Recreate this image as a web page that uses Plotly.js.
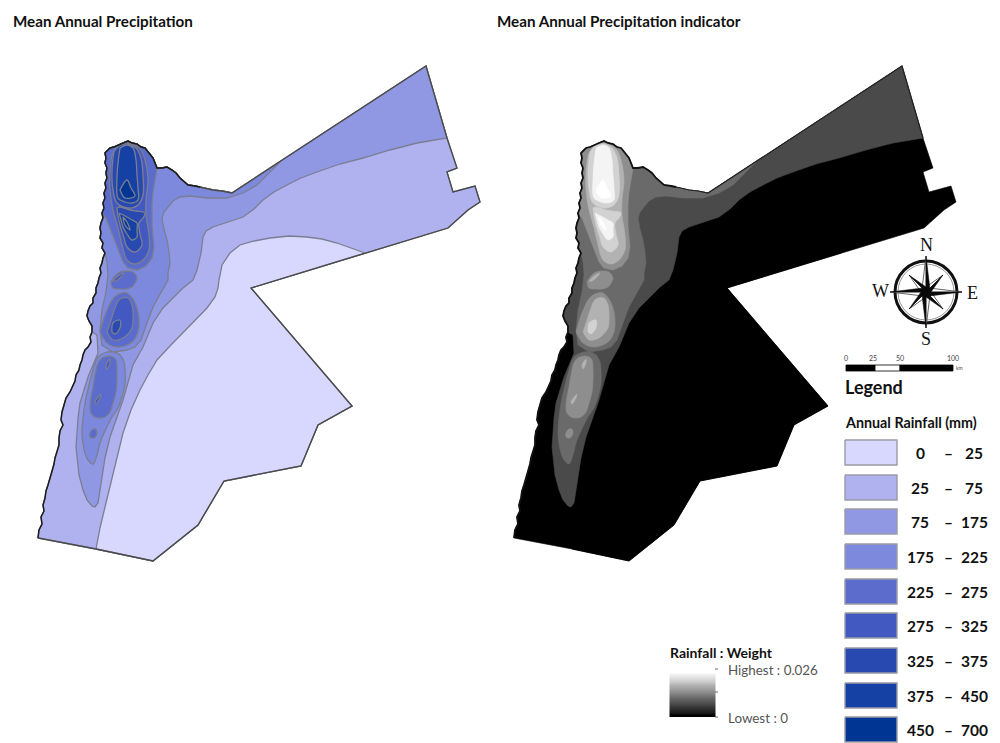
<!DOCTYPE html>
<html><head><meta charset="utf-8">
<script src="https://cdn.plot.ly/plotly-3.0.1.min.js"></script>
<style>html,body{margin:0;padding:0;background:#fff}#c{width:1000px;height:743px}</style>
</head><body><div id="c"></div>
<script>
// ---- classes ----
const rainfallLow  = ['0','25','75','175','225','275','325','375','450'];
const rainfallHigh = ['25','75','175','225','275','325','375','450','700'];
const blues = ['#d8d8ff','#b0b2f0','#9098e3','#7c89dd','#5b6ccd','#4359c2','#2849b0','#1540a4','#003594'];
const grays = ['#000000','#000000','#4a4a4a','#6a6a6a','#8e8e8e','#b2b2b2','#d2d2d2','#f4f4f4','#ffffff'];
const legendTops = [440,475,509,544,579,613,648,683,717];
// ---- boundary of the territory ----
const coastSouth = [[38,538],[39,530],[42,524],[41,517],[44,511],[43,505],[45,498],[46,491],[48,485],[50,478],[52,472],[54,464],[55,458],[57,452],[59,445],[59,438],[60,431],[63,425],[61,420],[62,412],[64,404],[66,398],[70,392],[72,387],[75,381],[76,375],[79,370],[80,365],[82,360],[83,355],[85,350],[88,347],[91,342],[90,337],[92,332]];
const coastMid = [[92,326],[89,321],[87,316],[88,311],[90,306],[93,303],[93,298],[96,293],[96,288],[98,283],[99,278],[101,273],[100,268],[102,263],[103,258]];
const coastNorth = [[105,253],[102,248],[103,243],[100,238],[101,233],[100,228],[101,223],[103,218],[102,213],[104,208],[103,203],[105,198],[104,193],[106,188],[105,183],[107,178],[106,173],[107,168],[105,163],[106,158],[105,153]];
const topEdge = [[108,150],[110,148],[114,147],[118,145],[123,143],[128,141],[132,143],[137,144],[141,147],[145,148],[148,152],[151,155],[153,158],[155,163],[157,168],[162,168],[167,167],[172,170],[176,173],[180,178],[185,182],[188,185],[195,186],[200,187],[207,189],[213,190],[222,191],[232,193]];
const northEast = [[426,66],[447,138]];
const eastEdge = [[457,168],[447,172],[453,192],[475,186],[480,202],[468,210],[448,228],[365,253]];
const gulfEdge = [[251,288],[352,406],[318,425],[301,466],[224,481],[198,525],[153,561],[96,549]];
// ---- rainfall contours ----
const c0 = [[96,549],[100,528],[105,507],[109,490],[113,473],[118,452],[123,433],[131,410],[140,390],[148,375],[157,360],[170,346],[183,333],[196,320],[207,308],[215,297],[218,288],[219,280],[222,265],[230,253],[240,245],[254,241],[270,238],[289,236],[307,237],[322,239],[337,243],[351,248],[365,253]];
const c1 = [[447,138],[417,143],[390,150],[363,158],[340,164],[317,172],[301,178],[287,185],[274,192],[263,200],[254,209],[243,217],[228,222],[213,227],[206,231],[203,237],[201,253],[197,270],[193,280],[183,288],[173,298],[163,308],[153,323],[148,335],[143,347],[133,365],[128,382],[123,400],[116,420],[110,437],[105,458],[102,477],[100,492],[98,503],[95,507],[92,506],[87,500],[83,490],[79,475],[77,460],[76,447],[77,433],[78,418],[80,403],[84,390],[88,377],[93,365],[98,353],[97,335],[92,332]];
const c2 = [[280,162],[267,175],[257,185],[243,193],[227,198],[207,198],[190,196],[180,197],[173,201],[168,207],[164,212],[162,218],[164,229],[167,240],[169,252],[170,263],[168,273],[168,280],[160,295],[153,307],[147,323],[141,340],[135,347],[127,350],[113,352],[102,345],[100,330],[102,310],[106,292],[108,275],[107,262]];
const c3 = [[157,168],[155,180],[153,192],[152,205],[152,225],[153,237],[154,247],[152,258],[146,266],[137,270],[128,268],[123,262],[119,252],[114,240],[110,228],[106,218]];
const b3South = [[107,352],[114,352],[120,355],[124,362],[125,370],[125,384],[122,397],[118,408],[112,417],[105,431],[100,443],[97,455],[93,464],[88,460],[85,453],[83,444],[82,433],[83,418],[85,403],[89,385],[93,370],[98,357],[107,352]];
const b4South = [[108,356],[113,357],[116,360],[117,370],[117,380],[116,392],[113,403],[110,412],[105,417],[100,418],[95,417],[91,413],[90,408],[91,397],[93,387],[95,375],[98,363],[102,358],[108,356]];
const b4Dot = [[96,429],[97,433],[94,438],[90,437],[90,433],[93,429],[96,429]];
const b5Patch1 = [[110,359],[110,363],[107,369],[106,366],[108,361],[110,359]];
const b5Patch2 = [[101,394],[100,398],[96,404],[95,402],[98,397],[101,394]];
const b4Oval = [[111,282],[115,276],[120,272],[127,271],[133,272],[137,278],[135,283],[132,287],[126,289],[120,289],[113,288],[111,282]];
const b5Sliver = [[113,281],[118,276],[124,273],[121,277],[116,281],[113,281]];
const b4Mid = [[100,332],[104,318],[108,308],[112,300],[117,295],[122,293],[127,293],[133,299],[137,308],[139,320],[138,332],[132,342],[118,347],[107,343],[100,332]];
const b5Mid = [[107,332],[111,320],[115,308],[118,301],[122,298],[128,298],[132,305],[133,312],[133,320],[132,328],[123,338],[113,340],[107,332]];
const b6Mid = [[112,332],[113,323],[120,320],[120,328],[115,334],[112,332]];
const b5North = [[112,155],[110,170],[110,190],[113,210],[118,228],[122,245],[127,260],[135,264],[143,260],[149,250],[149,235],[146,215],[146,200],[148,180],[145,160],[140,149],[128,143],[118,146],[112,155]];
const b6Upper = [[114,152],[112,170],[113,190],[117,203],[128,208],[138,205],[143,195],[143,175],[141,158],[136,148],[127,144],[119,146],[114,152]];
const b6Lower = [[117,208],[118,216],[120,225],[124,238],[127,247],[135,252],[142,245],[140,234],[139,223],[143,218],[145,213],[136,211],[130,210],[120,207],[117,208]];
const b7Upper = [[120,148],[118,163],[117,178],[118,198],[125,202],[132,203],[138,200],[138,188],[137,175],[136,160],[133,148],[127,145],[120,148]];
const b7Lower = [[119,213],[121,220],[123,227],[127,234],[132,240],[137,237],[137,230],[137,223],[132,220],[127,217],[119,213]];
const b8Tip = [[120,190],[127,180],[131,188],[135,196],[125,198],[120,190]];
const b8Sliver = [[123,217],[127,222],[130,230],[125,225],[123,217]];
const country = [].concat(coastNorth,topEdge,northEast,eastEdge,gulfEdge,coastSouth,coastMid);
// [contour, class index, smooth?]
const layers = [
  [country,1,false],
  [c0.concat([[251,288]],gulfEdge.slice(1)),0,false],
  [[].concat(coastMid,coastNorth,topEdge,northEast,c1),2,false],
  [[].concat(coastNorth,topEdge,c2),3,false],
  [[].concat(coastNorth.slice(8),topEdge.slice(0,14),c3),4,false],
  [b3South,3,true],[b4South,4,true],[b4Dot,4,true],[b5Patch1,5,true],[b5Patch2,5,true],
  [b4Oval,4,true],[b5Sliver,5,true],
  [b4Mid,4,true],[b5Mid,5,true],[b6Mid,6,true],
  [b5North,5,true],[b6Upper,6,true],[b6Lower,6,true],[b7Upper,7,true],[b7Lower,7,true],[b8Tip,8,true],[b8Sliver,8,true]
];
const gradientValues = [0.026,0.0235,0.021,0.018,0.0155,0.013,0.0105,0.008,0.0055,0.003,0];
const gradientRows = [672,676,681,685,690,694,698,703,707,712,715];
const tr = [];
const X = p=>p.map(a=>a[0]), Y = p=>p.map(a=>a[1]);
function poly(pts,fill,axis,lineColor,lw,smooth){
  tr.push({x:X(pts).concat(pts[0][0]),y:Y(pts).concat(pts[0][1]),xaxis:axis,yaxis:'y',type:'scatter',mode:'lines',
    fill:'toself',fillcolor:fill,hoverinfo:'skip',showlegend:false,
    line:{color:lineColor,width:lw,shape:smooth?'spline':'linear'}});
}
function path(pts,axis,color,lw){
  tr.push({x:X(pts),y:Y(pts),xaxis:axis,yaxis:'y',type:'scatter',mode:'lines',hoverinfo:'skip',showlegend:false,line:{color:color,width:lw}});
}
// left map: coloured contours
layers.forEach(l=>poly(l[0],blues[l[1]],'x','#7b7e92',1.3,l[2]));
path(topEdge.concat(northEast,eastEdge,[[251,288]],gulfEdge,[[38,538]]),'x','#4a4a4a',1.3);
path(coastSouth.concat(coastMid,coastNorth,topEdge.slice(0,24)),'x','#1c1c1c',1.5);
// right map: the same contours in grey
layers.forEach(l=>poly(l[0],grays[l[1]],'x2',grays[l[1]],0.6,l[2]));
path(coastSouth.concat(coastMid,coastNorth,topEdge.slice(0,24)),'x2','#111',1.8);
path(topEdge.slice(23).concat(northEast),'x2','#222',1.2);
// legend swatches
legendTops.forEach((t,i)=>{
  poly([[845,t],[897,t],[897,t+25],[845,t+25]],blues[i],'x','#9a9aa8',1.4,false);
});
// gradient
tr.push({type:'heatmap',x:[681,704],y:gradientRows,z:gradientValues.map(v=>[v,v]),zmin:0,zmax:0.026,zsmooth:'best',
  colorscale:[[0,'#000'],[1,'#fff']],showscale:false,hoverinfo:'skip',xaxis:'x',yaxis:'y'});
path([[715,669],[718,669]],'x','#666',1);
path([[715,692],[718,692]],'x','#666',1);
path([[715,717],[718,717]],'x','#666',1);
// compass
const cx=926, cy=292, lens=[36,24];
const dark=[],light=[];
for(let k=0;k<8;k++){
  const a=k*Math.PI/4, L=lens[k%2], w=k%2?5:5.5;
  const tip=[cx+L*Math.sin(a),cy-L*Math.cos(a)];
  const s1=[cx+w*Math.sin(a+Math.PI/4),cy-w*Math.cos(a+Math.PI/4)];
  const s2=[cx+w*Math.sin(a-Math.PI/4),cy-w*Math.cos(a-Math.PI/4)];
  dark.push(tip,s1,[cx,cy],tip,[null,null]);
  light.push(tip,s2,[cx,cy],tip,[null,null]);
}
tr.push({x:X(light),y:Y(light),xaxis:'x',yaxis:'y',mode:'lines',fill:'toself',fillcolor:'#fff',line:{color:'#222',width:0.7},hoverinfo:'skip',showlegend:false});
tr.push({x:X(dark),y:Y(dark),xaxis:'x',yaxis:'y',mode:'lines',fill:'toself',fillcolor:'#0a0a0a',line:{color:'#0a0a0a',width:0.5},hoverinfo:'skip',showlegend:false});
// scale bar
poly([[846,365],[875,365],[875,371],[846,371]],'#000','x','#000',0.8,false);
poly([[875,365],[900,365],[900,371],[875,371]],'#fff','x','#000',0.8,false);
poly([[900,365],[953,365],[953,371],[900,371]],'#000','x','#000',0.8,false);

const F='Lato, "Open Sans", sans-serif', S='"Liberation Serif", serif';
function txt(x,y,t,size,opts){opts=opts||{};const a=opts.a||'left';return {x:a==='left'?x-2:x,y,xref:'x',yref:'y',text:t,showarrow:false,xanchor:a,yanchor:'middle',
  font:{family:opts.f||F,size,color:opts.c||'#111',weight:opts.w===undefined?700:opts.w}};}
const ann=[
  txt(13,21,'Mean Annual Precipitation',15.2),
  txt(497,21,'Mean Annual Precipitation indicator',15.2),
  txt(926,245,'N',18,{a:'center',f:S,w:400}),
  txt(926,339,'S',18,{a:'center',f:S,w:400}),
  txt(880,291,'W',18,{a:'center',f:S,w:400}),
  txt(972,293,'E',18,{a:'center',f:S,w:400}),
  txt(846,358,'0',7,{a:'center',w:400,c:'#444'}),
  txt(873,358,'25',7,{a:'center',w:400,c:'#444'}),
  txt(900,358,'50',7,{a:'center',w:400,c:'#444'}),
  txt(953,358,'100',7,{a:'center',w:400,c:'#444'}),
  txt(956,368,'km',5,{w:400,c:'#444'}),
  txt(845,387,'Legend',18),
  txt(845,422,'Annual Rainfall (mm)',14.3),
  txt(670,652,'Rainfall : Weight',14),
  txt(728,670,'Highest : 0.026',13.4,{w:400,c:'#555'}),
  txt(728,718,'Lowest : 0',13.4,{w:400,c:'#555'})
];
legendTops.forEach((t,i)=>{
  ann.push(txt(920,t+13,rainfallLow[i],15.5,{a:'center'}));
  ann.push(txt(948,t+13,'–',15.5,{a:'center'}));
  ann.push(txt(974,t+13,rainfallHigh[i],15.5,{a:'center'}));
});
const ax={visible:false,fixedrange:true};
Plotly.newPlot('c',tr,{
  width:1000,height:743,margin:{l:0,r:0,t:0,b:0},paper_bgcolor:'#fff',plot_bgcolor:'#fff',showlegend:false,
  xaxis:Object.assign({range:[0,1000]},ax),
  xaxis2:Object.assign({range:[-476,524],overlaying:'x'},ax),
  yaxis:Object.assign({range:[743,0]},ax),
  annotations:ann,
  shapes:[{type:'circle',xref:'x',yref:'y',x0:cx-31,x1:cx+31,y0:cy-31,y1:cy+31,line:{color:'#111',width:3},layer:'below'},
          {type:'circle',xref:'x',yref:'y',x0:cx-28,x1:cx+28,y0:cy-28,y1:cy+28,line:{color:'#999',width:1},layer:'below'}]
},{staticPlot:true,displayModeBar:false});
</script></body></html>
